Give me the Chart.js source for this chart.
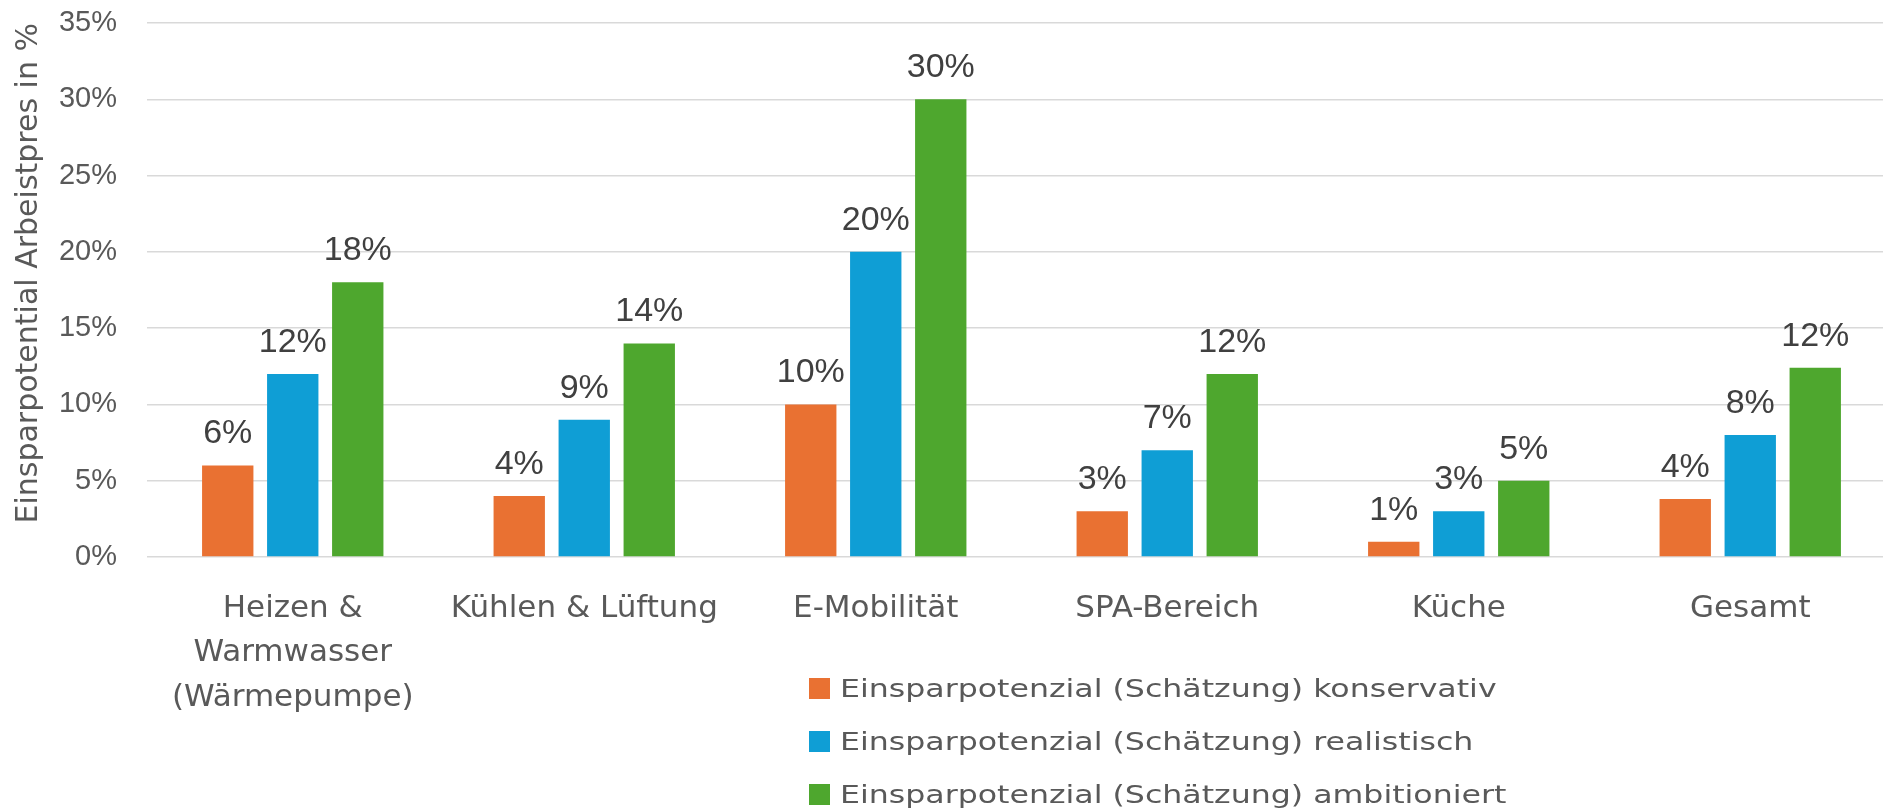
<!DOCTYPE html>
<html><head><meta charset="utf-8">
<script src="https://cdn.jsdelivr.net/npm/chart.js@4/dist/chart.umd.min.js"></script>
<style>
html,body{margin:0;padding:0;overflow:hidden;background:#fff;width:1883px;height:812px}
#wrap{position:relative;width:1897px;height:812px}
#c{position:absolute;left:0;top:0}
#legend{position:absolute;left:809px;top:662px;font-family:'DejaVu Sans',sans-serif}
.row{display:flex;align-items:center;height:53px}
.box{width:21px;height:21px;flex:none}
.txt{margin-left:10px;font-size:24px;color:#595959;transform:scaleX(1.317);transform-origin:left center;white-space:nowrap;line-height:1}
</style></head><body>
<div id="wrap"><canvas id="c" width="1897" height="812"></canvas><div id="legend"></div></div>
<script>
const categories = [['Heizen &', 'Warmwasser', '(Wärmepumpe)'], 'Kühlen & Lüftung', 'E-Mobilität', 'SPA-Bereich', 'Küche', 'Gesamt'];
const seriesNames = ['Einsparpotenzial (Schätzung) konservativ', 'Einsparpotenzial (Schätzung) realistisch', 'Einsparpotenzial (Schätzung) ambitioniert'];
const konservativ = [6, 4, 10, 3, 1, 3.8];
const realistisch = [12, 9, 20, 7, 3, 8];
const ambitioniert = [18, 14, 30, 12, 5, 12.4];
const seriesColors = ['#E97132', '#0F9ED5', '#4EA72E'];
const yTicks = [0, 5, 10, 15, 20, 25, 30, 35];
const yTitle = 'Einsparpotential Arbeistpres in %';

const valueLabels = {
  id: 'valueLabels',
  afterDatasetsDraw(chart) {
    const ctx = chart.ctx;
    ctx.save();
    ctx.font = '34px "Liberation Sans", Arial, sans-serif';
    ctx.fillStyle = '#404040';
    ctx.textAlign = 'center';
    ctx.textBaseline = 'alphabetic';
    chart.data.datasets.forEach((ds, i) => {
      chart.getDatasetMeta(i).data.forEach((bar, j) => {
        ctx.fillText(Math.round(ds.data[j]) + '%', bar.x, bar.y - 22);
      });
    });
    ctx.restore();
  }
};

const htmlLegend = {
  id: 'htmlLegend',
  afterUpdate(chart) {
    const el = document.getElementById('legend');
    el.innerHTML = '';
    chart.data.datasets.forEach(ds => {
      const row = document.createElement('div'); row.className = 'row';
      const b = document.createElement('span'); b.className = 'box'; b.style.background = ds.backgroundColor;
      const t = document.createElement('span'); t.className = 'txt'; t.textContent = ds.label;
      row.appendChild(b); row.appendChild(t); el.appendChild(row);
    });
  }
};

const datasets = [konservativ, realistisch, ambitioniert].map((d, i) => ({
  label: seriesNames[i], data: d, backgroundColor: seriesColors[i], borderWidth: 0
}));

new Chart(document.getElementById('c'), {
  type: 'bar',
  data: { labels: categories, datasets },
  plugins: [valueLabels, htmlLegend],
  options: {
    responsive: false,
    devicePixelRatio: 1,
    animation: false,
    layout: { padding: { top: 23, left: 0, right: 1, bottom: 0 } },
    datasets: { bar: { categoryPercentage: 0.669, barPercentage: 0.79 } },
    plugins: { legend: { display: false }, tooltip: { enabled: false } },
    scales: {
      x: {
        grid: { display: false },
        border: { display: false },
        ticks: {
          color: '#595959', padding: 21, maxRotation: 0, autoSkip: false,
          font: { family: "'DejaVu Sans'", size: 31, lineHeight: 1.45 }
        },
        afterFit(s) { s.height = 255; }
      },
      y: {
        min: 0, max: 35,
        afterBuildTicks(s) { s.ticks = yTicks.map(v => ({ value: v })); },
        grid: { color: '#d9d9d9', lineWidth: 1.5, drawTicks: false },
        border: { display: false },
        ticks: {
          color: '#595959', padding: 30,
          font: { family: "'Liberation Sans'", size: 29 },
          callback: v => v + '%'
        },
        title: {
          display: true, text: yTitle, align: 'end', color: '#595959',
          font: { family: "'DejaVu Sans'", size: 30 },
          padding: { top: 11, bottom: 0 }
        },
        afterFit(s) { s.width = 147; s.paddingTop = 0; s.paddingBottom = 0; }
      }
    }
  }
});
</script>
</body></html>
